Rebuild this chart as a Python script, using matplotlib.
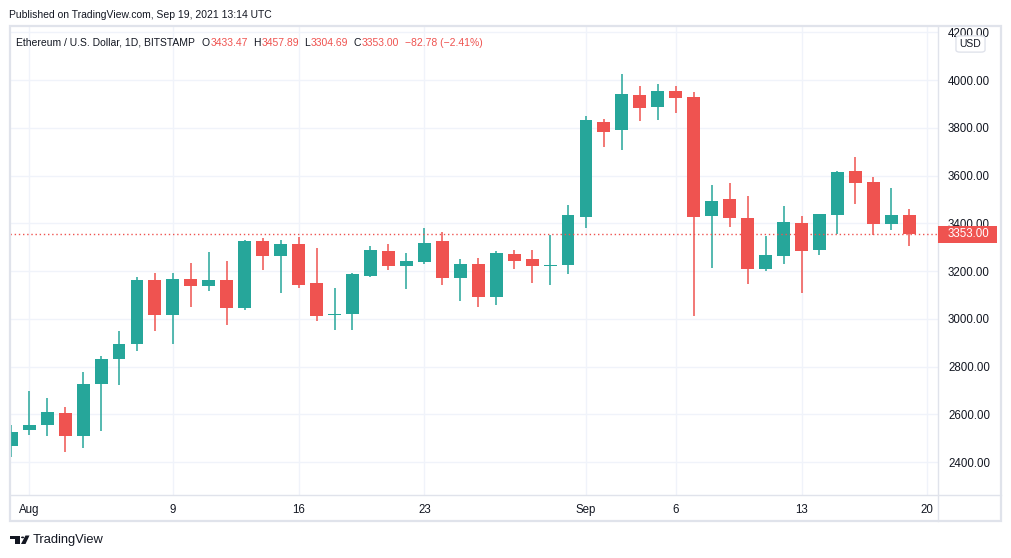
import matplotlib.pyplot as plt
from matplotlib.patches import Rectangle, Polygon, Circle, FancyBboxPatch
from matplotlib.lines import Line2D

# daily ETH/USD candles, Jul 31 - Sep 19 2021
dates = ['Jul 31', 'Aug 1', 'Aug 2', 'Aug 3', 'Aug 4', 'Aug 5', 'Aug 6', 'Aug 7', 'Aug 8', 'Aug 9',
         'Aug 10', 'Aug 11', 'Aug 12', 'Aug 13', 'Aug 14', 'Aug 15', 'Aug 16', 'Aug 17', 'Aug 18',
         'Aug 19', 'Aug 20', 'Aug 21', 'Aug 22', 'Aug 23', 'Aug 24', 'Aug 25', 'Aug 26', 'Aug 27',
         'Aug 28', 'Aug 29', 'Aug 30', 'Aug 31', 'Sep 1', 'Sep 2', 'Sep 3', 'Sep 4', 'Sep 5', 'Sep 6',
         'Sep 7', 'Sep 8', 'Sep 9', 'Sep 10', 'Sep 11', 'Sep 12', 'Sep 13', 'Sep 14', 'Sep 15',
         'Sep 16', 'Sep 17', 'Sep 18', 'Sep 19']
opens = [2466, 2533, 2554, 2607, 2508, 2725, 2830, 2893, 3163, 3014,
         3167, 3139, 3163, 3047, 3326, 3265, 3314, 3148, 3014,
         3018, 3180, 3285, 3223, 3238, 3326, 3172, 3230, 3092,
         3272, 3251, 3223, 3226, 3428, 3824, 3791, 3937, 3889, 3954,
         3929, 3432, 3502, 3423, 3207, 3265, 3402, 3286, 3436,
         3619, 3573, 3399, 3433.47]
highs = [2556, 2699, 2670, 2632, 2778, 2845, 2950, 3176, 3192, 3192,
         3234, 3280, 3243, 3332, 3338, 3328, 3342, 3297, 3130,
         3192, 3305, 3314, 3276, 3381, 3364, 3251, 3255, 3285,
         3289, 3289, 3351, 3477, 3849, 3837, 4025, 3975, 3983, 3975,
         3950, 3561, 3569, 3515, 3347, 3473, 3431, 3440, 3619,
         3678, 3594, 3548, 3457.89]
lows = [2420, 2512, 2508, 2441, 2458, 2529, 2721, 2867, 2947, 2893,
        3048, 3118, 2976, 3035, 3206, 3110, 3131, 2989, 2951,
        2954, 3176, 3205, 3125, 3231, 3142, 3075, 3050, 3058,
        3209, 3150, 3142, 3188, 3382, 3721, 3707, 3828, 3833, 3863,
        3013, 3213, 3386, 3144, 3202, 3231, 3110, 3269, 3357,
        3482, 3349, 3370, 3304.69]
closes = [2527, 2556, 2611, 2508, 2728, 2833, 2895, 3163, 3014, 3167,
          3139, 3163, 3044, 3326, 3265, 3314, 3143, 3010, 3018,
          3188, 3289, 3223, 3243, 3318, 3172, 3230, 3092, 3276,
          3243, 3222, 3227, 3435, 3833, 3784, 3941, 3884, 3954, 3926,
          3428, 3494, 3424, 3207, 3268, 3406, 3282, 3439, 3615,
          3570, 3399, 3435, 3353.00]

tick_pos = [1, 9, 16, 23, 32, 37, 44, 51]
tick_labels = ['Aug', '9', '16', '23', 'Sep', '6', '13', '20']
price_ticks = [2400, 2600, 2800, 3000, 3200, 3400, 3600, 3800, 4000, 4200]
last_price = 3353.00

UP = '#26a69a'
DOWN = '#ef5350'
GRID = '#f0f3fa'
BORDER = '#e0e3eb'
TXT = '#131722'

plt.rcParams['font.family'] = ['Liberation Sans', 'DejaVu Sans']

W, H = 1012, 558
def fx(px):
    return px / W
def fy(py):
    return 1 - py / H

fig = plt.figure(figsize=(W / 100, H / 100), dpi=100)
fig.patch.set_facecolor('white')
ax = fig.add_axes([fx(10), fy(495), (938 - 10) / W, (495 - 27) / H])

# candles
for i in range(len(dates)):
    o, h, l, c = opens[i], highs[i], lows[i], closes[i]
    col = UP if c >= o else DOWN
    ax.vlines(i, l, h, color=col, lw=1.1, zorder=3)
    ax.bar(i, max(abs(c - o), 4), bottom=min(o, c), width=0.72, color=col, zorder=4)

ax.axhline(last_price, color=DOWN, ls=(0, (1, 2)), lw=1, zorder=5)

ax.set_xlim(-0.07, 51.6)
ax.set_ylim(2262, 4222)
ax.set_xticks(tick_pos)
ax.set_xticklabels(tick_labels)
ax.set_yticks(price_ticks)
ax.set_yticklabels(['%.2f' % p for p in price_ticks])
ax.yaxis.tick_right()
ax.tick_params(axis='y', length=0, pad=7.2, labelsize=8.3, labelcolor=TXT)
ax.tick_params(axis='x', length=0, pad=6.5, labelsize=8.3, labelcolor=TXT)
ax.grid(True, color=GRID, lw=1, zorder=0)
for s in ax.spines.values():
    s.set_visible(False)

# frame and axis separators
fig.add_artist(Rectangle((fx(10), fy(521)), 991 / W, 495 / H, transform=fig.transFigure,
                         fill=False, ec=BORDER, lw=1.6))
fig.add_artist(Line2D([fx(938), fx(938)], [fy(26), fy(521)], transform=fig.transFigure,
                      color=BORDER, lw=1))
fig.add_artist(Line2D([fx(10), fx(1001)], [fy(495), fy(495)], transform=fig.transFigure,
                      color=BORDER, lw=1))

# last price label on the axis (covers part of the 3400 label, as on the original)
ypix = ax.transData.transform((0, last_price))[1]
fig.add_artist(Rectangle((fx(938), (ypix - 8.5) / H), 59 / W, 17 / H, transform=fig.transFigure,
                         fc=DOWN, ec='none', zorder=10))
fig.text(fx(948), ypix / H, '%.2f' % last_price, color='white', fontsize=8.3,
         va='center', ha='left', zorder=11)

# USD badge
fig.add_artist(FancyBboxPatch((fx(958), fy(51)), 25 / W, 14 / H, transform=fig.transFigure,
                              boxstyle='round,pad=0.002,rounding_size=0.004',
                              fc='white', ec=BORDER, lw=1, zorder=10))
fig.text(fx(970.5), fy(44), 'USD', fontsize=7.5, color=TXT, ha='center', va='center', zorder=11)

# header texts
fig.text(fx(9), fy(15), 'Published on TradingView.com, Sep 19, 2021 13:14 UTC',
         fontsize=7.5, color=TXT, va='center')

renderer = fig.canvas.get_renderer()
legend_parts = [('Ethereum / U.S. Dollar, 1D, BITSTAMP', TXT, 7), ('O', TXT, 0.5),
                ('3433.47', DOWN, 5.5), ('H', TXT, 0.5), ('3457.89', DOWN, 5.5),
                ('L', TXT, 0.5), ('3304.69', DOWN, 5.5), ('C', TXT, 0.5),
                ('3353.00', DOWN, 5.5), ('\u221282.78 (\u22122.41%)', DOWN, 0)]
xpos = 16
for s, col, gap in legend_parts:
    t = fig.text(fx(xpos), fy(42.5), s, fontsize=7.5, color=col, va='center')
    xpos = t.get_window_extent(renderer).x1 + gap

# footer logo
fig.add_artist(Polygon([(fx(10), fy(535.5)), (fx(20), fy(535.5)), (fx(20), fy(544)),
                        (fx(15), fy(544)), (fx(15), fy(539.3)), (fx(10), fy(539.3))],
                       closed=True, transform=fig.transFigure, fc=TXT, ec='none'))
fig.add_artist(Circle((fx(22.6), fy(537.4)), 1.6 / W, transform=fig.transFigure, fc=TXT, ec='none'))
fig.add_artist(Polygon([(fx(25.5), fy(535.5)), (fx(29.5), fy(535.5)), (fx(25.5), fy(544)),
                        (fx(21), fy(544))],
                       closed=True, transform=fig.transFigure, fc=TXT, ec='none'))
fig.text(fx(33), fy(540), 'TradingView', fontsize=9.3, color=TXT, va='center')

fig.savefig('out.png', dpi=100, facecolor='white')
